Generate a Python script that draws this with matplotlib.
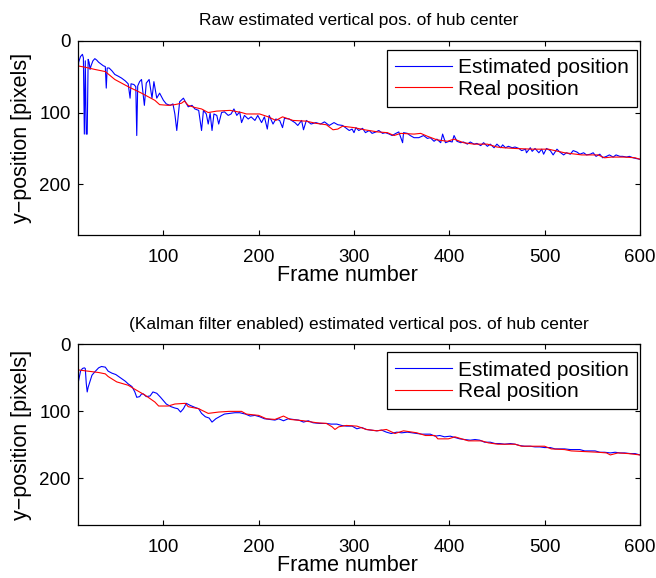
import numpy as np
import matplotlib
matplotlib.use('Agg')
import matplotlib.pyplot as plt

plt.rcParams['font.family'] = ['Liberation Sans', 'DejaVu Sans']

# raw estimate (top panel)
RAW_FRAMES = [10, 11, 13, 15, 16, 17, 18, 19, 20, 21, 22, 23, 24, 26, 28, 30, 32, 35, 37, 39,
              40, 41, 43, 46, 49, 52, 56, 60, 63, 65, 66, 69, 71, 72, 73, 75, 77, 80, 82, 85,
              88, 90, 93, 96, 100, 103, 107, 110, 112, 114, 117, 121, 123, 126, 130, 133, 137, 140, 142, 145,
              147, 149, 151, 153, 156, 158, 161, 164, 168, 171, 174, 177, 180, 182, 185, 189, 192, 196, 199, 203,
              206, 209, 211, 215, 218, 222, 225, 227, 232, 238, 241, 245, 247, 250, 255, 260, 265, 269, 274, 279,
              283, 288, 292, 295, 298, 300, 302, 305, 309, 312, 316, 319, 323, 326, 330, 333, 337, 340, 344, 347,
              351, 352, 356, 359, 363, 368, 373, 377, 380, 384, 387, 391, 393, 396, 400, 403, 405, 408, 412, 415,
              419, 422, 426, 429, 433, 436, 440, 443, 447, 450, 454, 456, 459, 462, 466, 469, 473, 476, 480, 481,
              485, 487, 490, 494, 497, 499, 502, 506, 509, 513, 516, 520, 523, 527, 530, 534, 537, 541, 544, 548,
              551, 554, 558, 561, 565, 568, 572, 575, 579, 582, 586, 589, 593, 596, 600]
RAW_EST = [61, 30, 22, 19, 24, 130, 28, 130, 130, 26, 30, 40, 35, 28, 25, 27, 30, 33, 35, 36,
           66, 38, 38, 42, 47, 49, 52, 56, 60, 80, 60, 61, 64, 132, 63, 57, 54, 90, 59, 54,
           80, 57, 80, 73, 83, 88, 90, 88, 102, 125, 85, 80, 85, 92, 90, 95, 97, 125, 97, 102,
           116, 101, 125, 102, 104, 116, 100, 99, 104, 102, 95, 104, 99, 114, 104, 109, 106, 111, 104, 114,
           106, 123, 104, 116, 109, 111, 121, 108, 109, 114, 118, 111, 124, 111, 116, 114, 116, 113, 118, 114,
           117, 118, 122, 125, 123, 128, 121, 125, 122, 128, 125, 129, 127, 125, 129, 128, 130, 132, 129, 127,
           142, 128, 129, 132, 135, 135, 132, 136, 135, 140, 137, 142, 130, 142, 140, 141, 132, 140, 142, 141,
           144, 141, 144, 143, 146, 142, 147, 144, 149, 144, 149, 145, 149, 147, 149, 148, 150, 153, 151, 156,
           149, 154, 150, 156, 151, 158, 150, 153, 159, 151, 155, 159, 156, 158, 153, 155, 158, 156, 159, 158,
           156, 161, 158, 163, 161, 159, 162, 159, 161, 161, 162, 161, 163, 164, 165]

RAW_REAL_FRAMES = [10, 18, 28, 39, 49, 63, 77, 91, 96, 105, 112, 119, 122, 126, 133, 140, 147, 156, 170, 182,
                   187, 201, 210, 218, 225, 236, 250, 260, 271, 278, 283, 288, 300, 311, 325, 335, 342, 349, 363, 370,
                   377, 387, 398, 405, 415, 426, 440, 450, 457, 469, 487, 504, 521, 539, 556, 563, 570, 584, 595, 600]
RAW_REAL = [35, 37, 40, 43, 54, 64, 73, 83, 89, 90, 89, 87, 84, 90, 93, 95, 100, 98, 97, 100,
            102, 102, 106, 111, 106, 111, 112, 115, 117, 124, 123, 119, 121, 124, 127, 128, 132, 129, 130, 129,
            133, 138, 140, 137, 142, 144, 144, 148, 149, 150, 151, 151, 156, 159, 159, 163, 162, 162, 163, 165]

# kalman filtered estimate (bottom panel)
KF_FRAMES = [10, 13, 15, 17, 18, 19, 20, 21, 23, 25, 28, 32, 35, 39, 42, 46, 50, 56, 60, 63,
             67, 70, 72, 75, 77, 79, 82, 86, 89, 93, 97, 100, 103, 108, 112, 115, 118, 121, 124, 128,
             133, 137, 140, 144, 148, 151, 155, 160, 164, 170, 175, 180, 186, 191, 196, 201, 206, 212, 217, 221,
             226, 231, 236, 242, 247, 252, 257, 264, 271, 276, 282, 287, 292, 298, 303, 308, 313, 318, 324, 329,
             334, 339, 345, 350, 356, 361, 366, 371, 375, 380, 385, 390, 395, 401, 406, 411, 416, 422, 427, 432,
             437, 443, 448, 453, 458, 464, 469, 474, 479, 485, 490, 495, 500, 506, 511, 516, 521, 527, 532, 537,
             542, 548, 553, 558, 563, 569, 574, 579, 584, 590, 595, 600]
KF_EST = [61, 40, 36, 35, 36, 58, 71, 64, 55, 46, 41, 35, 33, 34, 40, 43, 45, 51, 55, 59,
          63, 71, 79, 78, 74, 74, 78, 77, 71, 73, 79, 84, 89, 93, 95, 96, 101, 96, 88, 91,
          94, 96, 103, 108, 110, 116, 111, 107, 104, 103, 102, 102, 104, 107, 106, 108, 111, 112, 113, 111,
          114, 111, 112, 113, 116, 114, 117, 118, 118, 119, 119, 121, 122, 122, 126, 124, 127, 128, 129, 128,
          131, 133, 131, 132, 131, 132, 133, 134, 134, 134, 137, 136, 138, 137, 139, 141, 142, 143, 142, 143,
          146, 146, 148, 148, 149, 148, 149, 151, 152, 152, 153, 153, 154, 154, 156, 156, 156, 157, 157, 157,
          159, 159, 159, 161, 161, 162, 161, 162, 162, 163, 163, 165]

KF_REAL_FRAMES = [10, 21, 32, 39, 42, 51, 63, 70, 81, 91, 95, 105, 112, 123, 126, 137, 147, 158, 169, 182,
                  187, 200, 208, 217, 226, 233, 247, 261, 271, 277, 280, 284, 292, 303, 313, 324, 334, 343, 352, 366,
                  375, 385, 388, 399, 406, 413, 420, 434, 441, 451, 469, 476, 490, 500, 507, 521, 528, 542, 556, 565,
                  569, 577, 588, 600]
KF_REAL = [38, 40, 42, 44, 48, 56, 61, 67, 76, 86, 92, 92, 89, 88, 93, 96, 103, 101, 100, 100,
           104, 106, 111, 112, 107, 112, 114, 117, 118, 123, 127, 123, 121, 122, 127, 129, 127, 133, 129, 132,
           136, 136, 141, 141, 138, 141, 144, 144, 147, 149, 149, 152, 152, 152, 156, 157, 159, 160, 161, 162,
           165, 162, 163, 165]

TITLES = ['Raw estimated vertical pos. of hub center',
          '(Kalman filter enabled) estimated vertical pos. of hub center']
X_TICKS = [100, 200, 300, 400, 500, 600]
Y_TICKS = [0, 100, 200]

FIG_H_PX = 578


def draw_panel(ax, frames, est, real_frames, real, title, leg_top):
    ax.plot(frames, est, color=(0, 0, 1), lw=0.8, label='Estimated position')
    ax.plot(real_frames, real, color=(1, 0, 0), lw=0.8, label='Real position')
    ax.set_xlim(10, 600)
    ax.set_ylim(270, 0)
    ax.set_xticks(X_TICKS)
    ax.set_yticks(Y_TICKS)
    ax.tick_params(direction='in', top=True, right=True, length=3.5, width=0.8,
                   labelsize=13.5, colors='black')
    ax.tick_params(axis='x', pad=10)
    ax.tick_params(axis='y', pad=5)
    for sp in ax.spines.values():
        sp.set_linewidth(0.9)
    ax.set_title(title, fontsize=12.5, pad=11)
    ax.set_xlabel('Frame number', fontsize=15.5)
    # xlabel top sits ~30 px under the axis line
    h_px = ax.get_position().height * FIG_H_PX
    ax.xaxis.set_label_coords(0.48, -30.0 / h_px)
    ax.set_ylabel('y\u2212position [pixels]', fontsize=15.5, labelpad=5)
    leg = ax.legend(loc='upper right', bbox_to_anchor=(0.995, leg_top), borderaxespad=0,
                    fontsize=15, fancybox=False, framealpha=1, edgecolor='black',
                    handlelength=2.7, handletextpad=0.3, labelspacing=0.12, borderpad=0.4)
    leg.get_frame().set_linewidth(0.9)


fig = plt.figure(figsize=(6.56, 5.78), dpi=100)
ax1 = fig.add_axes([0.1184, 0.594, 0.857, 0.3356])
ax2 = fig.add_axes([0.1184, 0.0912, 0.857, 0.313])

draw_panel(ax1, RAW_FRAMES, RAW_EST, RAW_REAL_FRAMES, RAW_REAL, TITLES[0], 0.953)
draw_panel(ax2, KF_FRAMES, KF_EST, KF_REAL_FRAMES, KF_REAL, TITLES[1], 0.956)

plt.savefig('out.png', dpi=100)
